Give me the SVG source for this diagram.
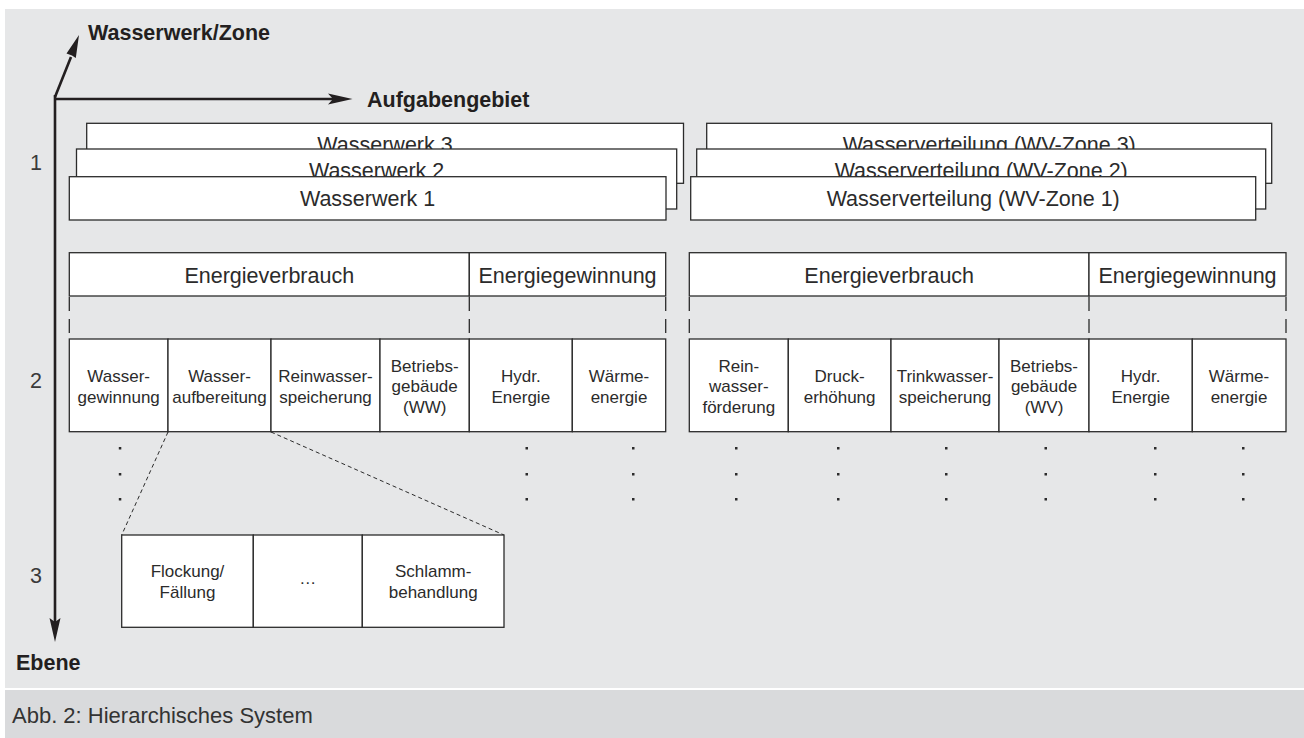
<svg xmlns="http://www.w3.org/2000/svg" width="1304" height="738" viewBox="0 0 1304 738">
<defs>
<style>
.box{fill:#fff;stroke:#2b2b2b;stroke-width:1.3}
.t{font-family:"Liberation Sans",Arial,sans-serif;fill:#2b2b2b;text-anchor:middle}
.big{font-size:21.5px}
.c{font-size:17px}
.ax{font-family:"Liberation Sans",Arial,sans-serif;font-weight:bold;font-size:21.5px;fill:#231f20}
.num{font-family:"Liberation Sans",Arial,sans-serif;font-size:21.5px;fill:#3a3a3a;text-anchor:middle}
.dash{stroke:#2b2b2b;stroke-width:1.3;stroke-dasharray:14 8;fill:none}
.zoom{stroke:#2b2b2b;stroke-width:1;stroke-dasharray:4 3;fill:none}
.axis{stroke:#231f20;stroke-width:2.6;fill:none}
.head{fill:#231f20}
.dot{fill:#2b2b2b}
</style>
</defs>
<rect x="0" y="0" width="1304" height="738" fill="#fff"/>
<rect x="5" y="9" width="1299" height="679" fill="#e6e7e8"/>
<rect x="5" y="690" width="1299" height="48" fill="#d9dadc"/>
<text x="12" y="723" font-family="'Liberation Sans',Arial,sans-serif" font-size="22" fill="#333">Abb. 2: Hierarchisches System</text>

<g id="axes">
<line class="axis" x1="55" y1="95" x2="55" y2="625"/>
<polygon class="head" points="55,642 49.5,618 55,622 60.5,618"/>
<line class="axis" x1="54" y1="99" x2="334" y2="99"/>
<polygon class="head" points="352.5,99 328,93.5 333,99 328,104.5"/>
<line class="axis" x1="55" y1="97" x2="71" y2="57"/>
<polygon class="head" points="79,35 75.8,58 72,55.5 66.5,53.5"/>
<text class="ax" x="88" y="40">Wasserwerk/Zone</text>
<text class="ax" x="367" y="107">Aufgabengebiet</text>
<text class="ax" x="16" y="670">Ebene</text>
<text class="num" x="36" y="170">1</text>
<text class="num" x="36" y="388">2</text>
<text class="num" x="36" y="583">3</text>
</g>

<g id="level1-ww">
<g id="ww3"><rect class="box" x="86.7" y="123.3" width="596.8" height="60"/><text class="t big" x="385" y="152.3">Wasserwerk 3</text></g>
<g id="ww2"><rect class="box" x="76.5" y="149" width="600.2" height="60"/><text class="t big" x="376.6" y="178">Wasserwerk 2</text></g>
<g id="ww1"><rect class="box" x="69.3" y="176.7" width="596.7" height="43.3"/><text class="t big" x="367.6" y="205.7">Wasserwerk 1</text></g>
</g>
<g id="level1-wv">
<g id="wv3"><rect class="box" x="706.7" y="123.3" width="565" height="60"/><text class="t big" x="989.2" y="152.3">Wasserverteilung (WV-Zone 3)</text></g>
<g id="wv2"><rect class="box" x="696.7" y="149" width="569" height="60"/><text class="t big" x="981.2" y="178">Wasserverteilung (WV-Zone 2)</text></g>
<g id="wv1"><rect class="box" x="690.7" y="176.7" width="565" height="43.3"/><text class="t big" x="973.2" y="205.7">Wasserverteilung (WV-Zone 1)</text></g>
</g>

<g id="level2-left-header">
<rect class="box" x="69.3" y="252.7" width="400" height="43.3"/>
<text class="t big" x="269.3" y="282.5">Energieverbrauch</text>
<rect class="box" x="469.3" y="252.7" width="196.4" height="43.3"/>
<text class="t big" x="567.5" y="282.5">Energiegewinnung</text>
</g>
<g id="level2-right-header">
<rect class="box" x="689.3" y="252.7" width="399.7" height="43.3"/>
<text class="t big" x="889.2" y="282.5">Energieverbrauch</text>
<rect class="box" x="1089" y="252.7" width="197" height="43.3"/>
<text class="t big" x="1187.5" y="282.5">Energiegewinnung</text>
</g>

<g id="connectors">
<line class="dash" x1="69.3" y1="297" x2="69.3" y2="339"/>
<line class="dash" x1="469.3" y1="297" x2="469.3" y2="339"/>
<line class="dash" x1="665.7" y1="297" x2="665.7" y2="339"/>
<line class="dash" x1="689.3" y1="297" x2="689.3" y2="339"/>
<line class="dash" x1="1089" y1="297" x2="1089" y2="339"/>
<line class="dash" x1="1286" y1="297" x2="1286" y2="339"/>
<line class="zoom" x1="168" y1="432" x2="121.7" y2="535"/>
<line class="zoom" x1="271" y1="432" x2="504" y2="535"/>
</g>

<g id="level2-left-cells">
<g id="c-wassergewinnung"><rect class="box" x="69.3" y="339" width="98.7" height="92.7"/><text class="t c" x="118.7" y="382">Wasser-</text><text class="t c" x="118.7" y="402.5">gewinnung</text></g>
<g id="c-wasseraufbereitung"><rect class="box" x="168" y="339" width="103" height="92.7"/><text class="t c" x="219.5" y="382">Wasser-</text><text class="t c" x="219.5" y="402.5">aufbereitung</text></g>
<g id="c-reinwasserspeicherung"><rect class="box" x="271" y="339" width="109" height="92.7"/><text class="t c" x="325.5" y="382">Reinwasser-</text><text class="t c" x="325.5" y="402.5">speicherung</text></g>
<g id="c-betriebsgebaeude-ww"><rect class="box" x="380" y="339" width="89.3" height="92.7"/><text class="t c" x="424.7" y="371.5">Betriebs-</text><text class="t c" x="424.7" y="392">gebäude</text><text class="t c" x="424.7" y="412.5">(WW)</text></g>
<g id="c-hydr-ww"><rect class="box" x="469.3" y="339" width="103" height="92.7"/><text class="t c" x="520.8" y="382">Hydr.</text><text class="t c" x="520.8" y="402.5">Energie</text></g>
<g id="c-waerme-ww"><rect class="box" x="572.3" y="339" width="93.4" height="92.7"/><text class="t c" x="619" y="382">Wärme-</text><text class="t c" x="619" y="402.5">energie</text></g>
</g>

<g id="level2-right-cells">
<g id="c-reinwasserfoerderung"><rect class="box" x="689.3" y="339" width="99" height="92.7"/><text class="t c" x="738.8" y="371.5">Rein-</text><text class="t c" x="738.8" y="392">wasser-</text><text class="t c" x="738.8" y="412.5">förderung</text></g>
<g id="c-druckerhoehung"><rect class="box" x="788.3" y="339" width="102.7" height="92.7"/><text class="t c" x="839.6" y="382">Druck-</text><text class="t c" x="839.6" y="402.5">erhöhung</text></g>
<g id="c-trinkwasserspeicherung"><rect class="box" x="891" y="339" width="108" height="92.7"/><text class="t c" x="945" y="382">Trinkwasser-</text><text class="t c" x="945" y="402.5">speicherung</text></g>
<g id="c-betriebsgebaeude-wv"><rect class="box" x="999" y="339" width="90" height="92.7"/><text class="t c" x="1044" y="371.5">Betriebs-</text><text class="t c" x="1044" y="392">gebäude</text><text class="t c" x="1044" y="412.5">(WV)</text></g>
<g id="c-hydr-wv"><rect class="box" x="1089" y="339" width="103.3" height="92.7"/><text class="t c" x="1140.7" y="382">Hydr.</text><text class="t c" x="1140.7" y="402.5">Energie</text></g>
<g id="c-waerme-wv"><rect class="box" x="1192.3" y="339" width="93.7" height="92.7"/><text class="t c" x="1239" y="382">Wärme-</text><text class="t c" x="1239" y="402.5">energie</text></g>
</g>

<g id="dots">
<rect class="dot" x="118.8" y="447" width="2.5" height="2.5"/><rect class="dot" x="118.8" y="473" width="2.5" height="2.5"/><rect class="dot" x="118.8" y="498" width="2.5" height="2.5"/>
<rect class="dot" x="525.5" y="447" width="2.5" height="2.5"/><rect class="dot" x="525.5" y="473" width="2.5" height="2.5"/><rect class="dot" x="525.5" y="498" width="2.5" height="2.5"/>
<rect class="dot" x="632" y="447" width="2.5" height="2.5"/><rect class="dot" x="632" y="473" width="2.5" height="2.5"/><rect class="dot" x="632" y="498" width="2.5" height="2.5"/>
<rect class="dot" x="735" y="447" width="2.5" height="2.5"/><rect class="dot" x="735" y="473" width="2.5" height="2.5"/><rect class="dot" x="735" y="498" width="2.5" height="2.5"/>
<rect class="dot" x="837" y="447" width="2.5" height="2.5"/><rect class="dot" x="837" y="473" width="2.5" height="2.5"/><rect class="dot" x="837" y="498" width="2.5" height="2.5"/>
<rect class="dot" x="945" y="447" width="2.5" height="2.5"/><rect class="dot" x="945" y="473" width="2.5" height="2.5"/><rect class="dot" x="945" y="498" width="2.5" height="2.5"/>
<rect class="dot" x="1044.5" y="447" width="2.5" height="2.5"/><rect class="dot" x="1044.5" y="473" width="2.5" height="2.5"/><rect class="dot" x="1044.5" y="498" width="2.5" height="2.5"/>
<rect class="dot" x="1154" y="447" width="2.5" height="2.5"/><rect class="dot" x="1154" y="473" width="2.5" height="2.5"/><rect class="dot" x="1154" y="498" width="2.5" height="2.5"/>
<rect class="dot" x="1242" y="447" width="2.5" height="2.5"/><rect class="dot" x="1242" y="473" width="2.5" height="2.5"/><rect class="dot" x="1242" y="498" width="2.5" height="2.5"/>
</g>

<g id="level3-cells">
<g id="c-flockung"><rect class="box" x="121.7" y="535" width="131.6" height="92.3"/><text class="t c" x="187.5" y="577">Flockung/</text><text class="t c" x="187.5" y="597.5">Fällung</text></g>
<g id="c-ellipsis"><rect class="box" x="253.3" y="535" width="109" height="92.3"/><text class="t c" x="307.8" y="584">…</text></g>
<g id="c-schlamm"><rect class="box" x="362.3" y="535" width="141.7" height="92.3"/><text class="t c" x="433.2" y="577">Schlamm-</text><text class="t c" x="433.2" y="597.5">behandlung</text></g>
</g>
</svg>
